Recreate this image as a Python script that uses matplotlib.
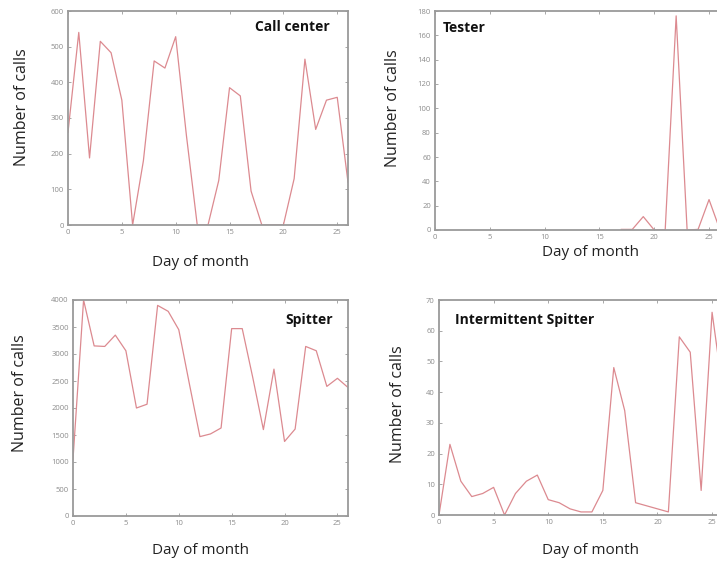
import matplotlib
matplotlib.use("Agg")
import matplotlib.pyplot as plt
import numpy as np

nan = np.nan

# Daily call counts per caller profile, days 0..26
days = list(range(27))

call_center = [260, 540, 188, 515, 483, 350, 0, 180, 460, 440, 528, 250, 0,
               0, 125, 385, 362, 95, 0, 0, 0, 130, 465, 268, 350, 358, 120]

# the tester number only shows up from day 17 onwards
tester = [nan] * 17 + [0.5, 0.5, 11, 0, 0, 176, 0, 0.5, 25, 0]

spitter = [1050, 4000, 3150, 3140, 3350, 3060, 2000, 2070, 3900, 3790, 3450,
           2450, 1470, 1520, 1630, 3470, 3470, 2560, 1600, 2720, 1380, 1610,
           3140, 3060, 2400, 2550, 2380]

intermittent = [0, 23, 11, 6, 7, 9, 0, 7, 11, 13, 5, 4, 2, 1, 1, 8, 48, 34,
                4, 3, 2, 1, 58, 53, 8, 66, 40]

titles = ["Call center", "Tester", "Spitter", "Intermittent Spitter"]
series = [call_center, tester, spitter, intermittent]
y_limits = [600, 180, 4000, 70]
y_steps = [100, 20, 500, 10]
x_ticks = [0, 5, 10, 15, 20, 25]

W, H = 717, 564
fig = plt.figure(figsize=(W / 100, H / 100), dpi=100)

# panel boxes in pixels: left, right, top, bottom
boxes = [(68, 348, 11, 225), (435, 720, 11, 230),
         (73, 348, 300, 516), (439, 723, 300, 515)]
title_pos = [(292, 27, "center"), (443, 28, "left"),
             (309, 320, "center"), (455, 320, "left")]
ylabel_pos = [(22, 107), (393, 108), (20, 393), (398, 404)]
xlabel_pos = [(200, 262), (591, 252), (200, 550), (590, 551)]

font = "Open Sans"
line_color = "#dc8a90"
spine_color = "#9a9a9a"
tick_color = "#8c8c8c"

for i in range(4):
    l, r, t, b = boxes[i]
    ax = fig.add_axes([l / W, 1 - b / H, (r - l) / W, (b - t) / H])
    ax.plot(days, series[i], color=line_color, lw=0.9, zorder=2)
    ax.set_xlim(0, 26)
    ax.set_ylim(0, y_limits[i])
    ax.set_xticks(x_ticks)
    ax.set_yticks(np.arange(0, y_limits[i] + 1, y_steps[i]))
    for s in ax.spines.values():
        s.set_color(spine_color)
        s.set_linewidth(1.3)
        s.set_zorder(3)
    ax.tick_params(direction="in", length=2.5, width=0.6, colors=spine_color,
                   labelcolor=tick_color, labelsize=5.5, top=True, right=True,
                   pad=3)
    for lab in ax.get_xticklabels() + ax.get_yticklabels():
        lab.set_family(font)

    tx, ty, ha = title_pos[i]
    fig.text(tx / W, 1 - ty / H, titles[i], ha=ha, va="center",
             fontsize=10, fontweight="bold", family=font, color="#111111")
    yx, yy = ylabel_pos[i]
    fig.text(yx / W, 1 - yy / H, "Number of calls", rotation=90,
             ha="center", va="center", fontsize=11.5, family=font,
             color="#222222")
    xx, xy = xlabel_pos[i]
    fig.text(xx / W, 1 - xy / H, "Day of month", ha="center", va="center",
             fontsize=11, family=font, color="#222222")

fig.savefig("out.png", dpi=100)
